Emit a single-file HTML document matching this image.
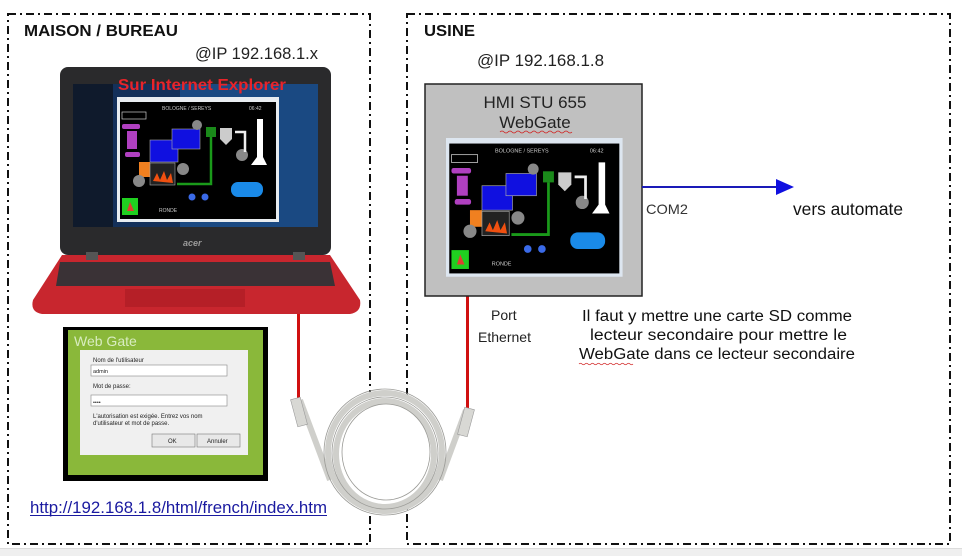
<!DOCTYPE html>
<html><head><meta charset="utf-8"><style>
html,body{margin:0;padding:0;background:#fff;}
svg{display:block;font-family:"Liberation Sans",Arial,sans-serif;}
</style></head><body>
<svg width="962" height="556" viewBox="0 0 962 556" xmlns="http://www.w3.org/2000/svg">
<rect x="0" y="0" width="962" height="556" fill="#fff"/>
<rect x="0" y="549" width="962" height="7" fill="#efefef"/>
<line x1="0" y1="548.5" x2="962" y2="548.5" stroke="#dcdcdc"/>
<g fill="none" stroke="#111" stroke-width="2" stroke-dasharray="8,4,2,4">
<rect x="8" y="14" width="362" height="530"/>
<rect x="407" y="14" width="543" height="530"/>
</g>
<text x="24" y="36" font-size="16" font-weight="bold" fill="#111" textLength="154" lengthAdjust="spacingAndGlyphs">MAISON / BUREAU</text>
<text x="195" y="59" font-size="16.5" fill="#222" textLength="123" lengthAdjust="spacingAndGlyphs">@IP 192.168.1.x</text>
<text x="424" y="36" font-size="16" font-weight="bold" fill="#111" textLength="51" lengthAdjust="spacingAndGlyphs">USINE</text>
<text x="477" y="66" font-size="16.5" fill="#222" textLength="127" lengthAdjust="spacingAndGlyphs">@IP 192.168.1.8</text>

<rect x="60" y="67" width="271" height="188" rx="8" fill="#2a2a2c"/>
<rect x="73" y="84" width="245" height="143" fill="#14305a"/>
<rect x="180" y="84" width="138" height="143" fill="#1e5a9c" opacity="0.6"/>
<rect x="73" y="84" width="40" height="143" fill="#0f1a2c"/>
<text x="183" y="246" font-size="9" font-style="italic" font-weight="bold" fill="#9a9a9a">acer</text>
<path d="M62 255 L330 255 L360 300 Q362 312 350 314 L42 314 Q30 312 33 300 Z" fill="#c8262e"/>
<path d="M60 262 L330 262 L335 286 L56 286 Z" fill="#3a3236"/>
<rect x="125" y="289" width="120" height="18" fill="#b51f27"/>
<rect x="86" y="252" width="12" height="8" fill="#555"/>
<rect x="293" y="252" width="12" height="8" fill="#555"/>
<text x="118" y="90" font-size="16" font-weight="bold" fill="#e8242a" textLength="168" lengthAdjust="spacingAndGlyphs">Sur Internet Explorer</text>

<g transform="translate(117,97)">
<rect x="0" y="0" width="162" height="125" fill="#e8ecf0"/>
<rect x="3" y="5" width="156" height="117" fill="#000"/>
<text x="45" y="13" font-size="5" fill="#ccc">BOLOGNE / SEREYS</text>
<text x="132" y="13" font-size="5" fill="#ccc">06:42</text>
<rect x="5" y="15" width="24" height="7" fill="none" stroke="#ccc" stroke-width="0.7"/>
<rect x="5" y="27" width="18" height="5" rx="2" fill="#b040c0"/>
<rect x="10" y="34" width="10" height="18" fill="#b040c0"/>
<rect x="8" y="55" width="15" height="5" rx="2" fill="#b040c0"/>
<rect x="33" y="43" width="28" height="22" fill="#1010e0" stroke="#aaa" stroke-width="0.6"/>
<rect x="55" y="32" width="28" height="20" fill="#1010e0" stroke="#aaa" stroke-width="0.6"/>
<rect x="22" y="65" width="11" height="15" fill="#f08020"/>
<rect x="33" y="66" width="25" height="22" fill="#222" stroke="#aaa" stroke-width="0.6"/>
<path d="M36 84 L40 76 L43 83 L47 74 L50 83 L54 76 L56 86 Z" fill="#f05010"/>
<rect x="89" y="30" width="10" height="10" fill="#1a8a1a"/>
<path d="M94 40 L94 87 L60 87" stroke="#1a9a1a" stroke-width="2.5" fill="none"/>
<circle cx="80" cy="28" r="5" fill="#888"/>
<circle cx="66" cy="72" r="6" fill="#888"/>
<circle cx="22" cy="84" r="6" fill="#888"/>
<circle cx="125" cy="58" r="6" fill="#888"/>
<path d="M103 31 L115 31 L115 42 L109 48 L103 42 Z" fill="#ccc"/>
<path d="M118 35 L128 35 L128 55" stroke="#eee" stroke-width="2.5" fill="none"/>
<path d="M140 22 L146 22 L146 60 L150 68 L134 68 L140 60 Z" fill="#fff"/>
<rect x="114" y="85" width="32" height="15" rx="7" fill="#1a8ae8"/>
<circle cx="75" cy="100" r="3.5" fill="#3a6ae8"/>
<circle cx="88" cy="100" r="3.5" fill="#3a6ae8"/>
<rect x="5" y="101" width="16" height="17" fill="#20d020"/>
<path d="M10 114 L13 105 L17 114 Z" fill="#e04030"/>
<text x="42" y="115" font-size="5" fill="#ccc">RONDE</text>
</g>

<rect x="63" y="327" width="205" height="154" fill="#000"/>
<rect x="68" y="330" width="195" height="145" fill="#8ab83a"/>
<text x="74" y="346" font-size="14" fill="#d8ecc0">Web Gate</text>
<rect x="80" y="350" width="168" height="105" fill="#f0f0f0"/>
<text x="93" y="362" font-size="6" fill="#222">Nom de l'utilisateur</text>
<rect x="91" y="365" width="136" height="11" fill="#fff" stroke="#888" stroke-width="0.6"/>
<text x="93" y="373" font-size="5.5" fill="#222">admin</text>
<text x="93" y="388" font-size="6" fill="#222">Mot de passe:</text>
<rect x="91" y="395" width="136" height="11" fill="#fff" stroke="#888" stroke-width="0.6"/>
<text x="93" y="404" font-size="5.5" fill="#222">••••</text>
<text x="93" y="418" font-size="6" fill="#222">L'autorisation est exigée. Entrez vos nom</text>
<text x="93" y="425" font-size="6" fill="#222">d'utilisateur et mot de passe.</text>
<rect x="152" y="434" width="43" height="13" fill="#e8e8e8" stroke="#777" stroke-width="0.6"/>
<text x="168" y="443" font-size="6" fill="#222">OK</text>
<rect x="197" y="434" width="43" height="13" fill="#e8e8e8" stroke="#777" stroke-width="0.6"/>
<text x="207" y="443" font-size="6" fill="#222">Annuler</text>

<text x="30" y="513" font-size="16.5" fill="#1a1aa0" textLength="297" lengthAdjust="spacingAndGlyphs">http://192.168.1.8/html/french/index.htm</text>
<line x1="30" y1="515.5" x2="327" y2="515.5" stroke="#1a1aa0" stroke-width="1"/>

<line x1="298.5" y1="314" x2="298.5" y2="398" stroke="#d01010" stroke-width="3"/>
<line x1="467.5" y1="296" x2="467.5" y2="410" stroke="#d01010" stroke-width="3"/>
<circle cx="385" cy="452" r="62" fill="#fff"/>
<g fill="none" stroke="#cfcfcb" stroke-width="6">
<ellipse cx="385" cy="452" rx="57" ry="59"/>
<ellipse cx="385" cy="454" rx="49" ry="53"/>
<path d="M300 400 L330 480"/>
<path d="M466 410 L440 480"/>
</g>
<g fill="none" stroke="#9a9a96" stroke-width="0.8">
<ellipse cx="385" cy="452" rx="61" ry="63"/>
<ellipse cx="386" cy="452" rx="44" ry="48"/>
<ellipse cx="385" cy="453" rx="53" ry="56"/>
</g>
<rect x="294" y="398" width="10" height="28" fill="#d8d8d4" stroke="#999" stroke-width="0.6" transform="rotate(-15 299 412)"/>
<rect x="461" y="408" width="10" height="28" fill="#d8d8d4" stroke="#999" stroke-width="0.6" transform="rotate(15 466 422)"/>

<rect x="425" y="84" width="217" height="212" fill="#c0c0c0" stroke="#222" stroke-width="1.5"/>
<text x="535" y="108" font-size="17" fill="#222" text-anchor="middle">HMI STU 655</text>
<text x="535" y="128" font-size="17" fill="#222" text-anchor="middle">WebGate</text>
<path d="M500 132 q2 -2 4 0 t4 0 t4 0 t4 0 t4 0 t4 0 t4 0 t4 0 t4 0 t4 0 t4 0 t4 0 t4 0 t4 0 t4 0 t4 0 t4 0 t4 0" stroke="#d02020" stroke-width="0.8" fill="none"/>
<g transform="translate(446,138) scale(1.09,1.11)">
<rect x="0" y="0" width="162" height="125" fill="#dde6f0"/>
<rect x="3" y="5" width="156" height="117" fill="#000"/>
<text x="45" y="13" font-size="5" fill="#ccc">BOLOGNE / SEREYS</text>
<text x="132" y="13" font-size="5" fill="#ccc">06:42</text>
<rect x="5" y="15" width="24" height="7" fill="none" stroke="#ccc" stroke-width="0.7"/>
<rect x="5" y="27" width="18" height="5" rx="2" fill="#b040c0"/>
<rect x="10" y="34" width="10" height="18" fill="#b040c0"/>
<rect x="8" y="55" width="15" height="5" rx="2" fill="#b040c0"/>
<rect x="33" y="43" width="28" height="22" fill="#1010e0" stroke="#aaa" stroke-width="0.6"/>
<rect x="55" y="32" width="28" height="20" fill="#1010e0" stroke="#aaa" stroke-width="0.6"/>
<rect x="22" y="65" width="11" height="15" fill="#f08020"/>
<rect x="33" y="66" width="25" height="22" fill="#222" stroke="#aaa" stroke-width="0.6"/>
<path d="M36 84 L40 76 L43 83 L47 74 L50 83 L54 76 L56 86 Z" fill="#f05010"/>
<rect x="89" y="30" width="10" height="10" fill="#1a8a1a"/>
<path d="M94 40 L94 87 L60 87" stroke="#1a9a1a" stroke-width="2.5" fill="none"/>
<circle cx="80" cy="28" r="5" fill="#888"/>
<circle cx="66" cy="72" r="6" fill="#888"/>
<circle cx="22" cy="84" r="6" fill="#888"/>
<circle cx="125" cy="58" r="6" fill="#888"/>
<path d="M103 31 L115 31 L115 42 L109 48 L103 42 Z" fill="#ccc"/>
<path d="M118 35 L128 35 L128 55" stroke="#eee" stroke-width="2.5" fill="none"/>
<path d="M140 22 L146 22 L146 60 L150 68 L134 68 L140 60 Z" fill="#fff"/>
<rect x="114" y="85" width="32" height="15" rx="7" fill="#1a8ae8"/>
<circle cx="75" cy="100" r="3.5" fill="#3a6ae8"/>
<circle cx="88" cy="100" r="3.5" fill="#3a6ae8"/>
<rect x="5" y="101" width="16" height="17" fill="#20d020"/>
<path d="M10 114 L13 105 L17 114 Z" fill="#e04030"/>
<text x="42" y="115" font-size="5" fill="#ccc">RONDE</text>
</g>

<line x1="642" y1="187" x2="778" y2="187" stroke="#1a1ab8" stroke-width="2"/>
<path d="M776 179 L794 187 L776 195 Z" fill="#1010e0"/>
<text x="646" y="214" font-size="14" fill="#333" textLength="42" lengthAdjust="spacingAndGlyphs">COM2</text>
<text x="793" y="215" font-size="17.5" fill="#111" textLength="110" lengthAdjust="spacingAndGlyphs">vers automate</text>

<text x="491" y="320" font-size="14" fill="#222">Port</text>
<text x="478" y="342" font-size="14" fill="#222" textLength="53" lengthAdjust="spacingAndGlyphs">Ethernet</text>
<g font-size="15.5" fill="#111">
<text x="582" y="321" textLength="270" lengthAdjust="spacingAndGlyphs">Il faut y mettre une carte SD comme</text>
<text x="590" y="340" textLength="257" lengthAdjust="spacingAndGlyphs">lecteur secondaire pour  mettre le</text>
<text x="579" y="359" textLength="276" lengthAdjust="spacingAndGlyphs">WebGate dans ce lecteur secondaire</text>
</g>
<path d="M579 364 q1.5 -1.5 3 0 t3 0 t3 0 t3 0 t3 0 t3 0 t3 0 t3 0 t3 0 t3 0 t3 0 t3 0 t3 0 t3 0 t3 0 t3 0 t3 0 t3 0" stroke="#d02020" stroke-width="0.8" fill="none"/>
</svg>
</body></html>
